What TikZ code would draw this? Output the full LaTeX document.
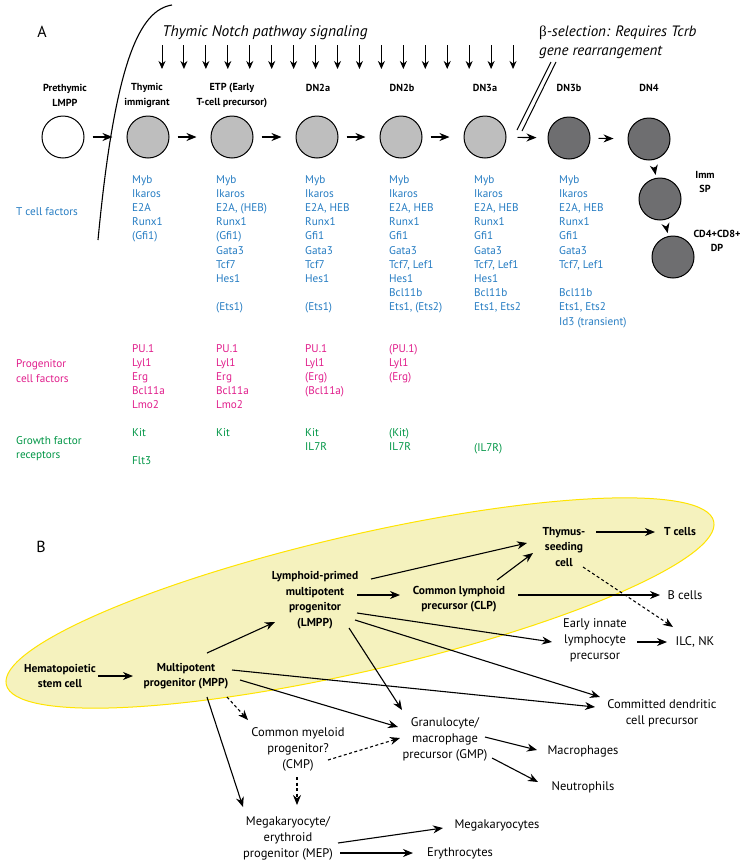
\documentclass[tikz,border=0pt]{standalone}
\usepackage{fontspec}
\setmainfont{PT Sans}
\newfontfamily\greekfont{Liberation Serif}
\usetikzlibrary{arrows.meta, positioning, calc}

\definecolor{tblue}{RGB}{38,125,195}
\definecolor{pmag}{RGB}{225,30,140}
\definecolor{ggreen}{RGB}{0,150,70}
\definecolor{lightcell}{RGB}{190,190,190}
\definecolor{darkcell}{RGB}{110,110,112}
\definecolor{ovalfill}{RGB}{245,242,190}
\definecolor{ovaledge}{RGB}{255,228,0}

\begin{document}
\begin{tikzpicture}[
  x=1pt, y=-1pt,
  every node/.style = {font=\fontsize{11}{13}\selectfont, inner sep=1pt},
  cell/.style   = {circle, draw=black, line width=1pt, minimum size=42pt,
                   inner sep=0pt},
  stage/.style  = {font=\bfseries\fontsize{10.2}{14.5}\selectfont, align=center},
  genes/.style  = {anchor=north west, inner sep=0pt, align=left,
                   font=\fontsize{11.2}{14.2}\selectfont},
  rowlbl/.style = {anchor=west, inner sep=0pt, align=left,
                   font=\fontsize{11.2}{14.2}\selectfont},
  arr/.style    = {-{Stealth[length=10pt, width=8pt]}, line width=1.1pt},
  darr/.style   = {arr, dash pattern=on 3pt off 2.5pt},
  notch/.style  = {-{Stealth[length=8pt, width=7pt]}, line width=1pt},
  bnode/.style  = {font=\bfseries\fontsize{11.5}{15.5}\selectfont, align=center},
  rnode/.style  = {font=\fontsize{12.5}{16}\selectfont, align=center},
]
\useasboundingbox (0,0) rectangle (751,865);
\fill[white] (0,0) rectangle (751,865);

% ---------------- PANEL A ----------------
\node[font=\fontsize{16}{18}\selectfont] (lblA) at (42,32) {A};

% thymus boundary
\draw[line width=1.1pt] (172,5) .. controls (140,10) and (115,60) .. (98,240);

% Notch signals
\node[font=\itshape\fontsize{15.4}{17}\selectfont] (notchtxt) at (265,33)
  {Thymic Notch pathway signaling};
\foreach \i in {0,...,16}{
  \coordinate (ntop\i) at ({162+21.94*\i},45);
  \coordinate (nbot\i) at ({162+21.94*\i},69);
  \draw[notch] (ntop\i) -- (nbot\i);
}

% beta-selection
\node[font=\itshape\fontsize{15}{19}\selectfont, align=left, anchor=west]
  (betatxt) at (538,42.5)
  {{\upshape\greekfont β}-selection: Requires Tcrb\\gene rearrangement};
\draw[line width=1pt] (551,62) -- (517,130);
\draw[line width=1pt] (556,62) -- (522,131);

% cells
\node[cell, fill=white]     (plmpp) at (63,137)  {};
\node[cell, fill=lightcell] (thy)   at (148,137) {};
\node[cell, fill=lightcell] (etp)   at (232,137) {};
\node[cell, fill=lightcell] (dn2a)  at (317,137) {};
\node[cell, fill=lightcell] (dn2b)  at (401,137) {};
\node[cell, fill=lightcell] (dn3a)  at (485,137) {};
\node[cell, fill=darkcell]  (dn3b)  at (569,138) {};
\node[cell, fill=darkcell]  (dn4)   at (649,139) {};
\node[cell, fill=darkcell]  (sp)    at (660,199) {};
\node[cell, fill=darkcell]  (dp)    at (673,257) {};

\draw[arr, shorten <=8pt, shorten >=14pt] (plmpp) -- (thy);
\draw[arr, shorten <=8pt, shorten >=14pt] (thy)   -- (etp);
\draw[arr, shorten <=8pt, shorten >=14pt] (etp)   -- (dn2a);
\draw[arr, shorten <=8pt, shorten >=14pt] (dn2a)  -- (dn2b);
\draw[arr, shorten <=8pt, shorten >=14pt] (dn2b)  -- (dn3a);
\draw[arr, shorten <=11pt, shorten >=11pt] (dn3a) -- (dn3b);
\draw[arr, shorten <=8pt, shorten >=14pt] (dn3b)  -- (dn4);
\draw[arr, shorten <=7pt, shorten >=3pt] (dn4) -- (sp);
\draw[arr, shorten <=7pt, shorten >=3pt] (sp)  -- (dp);

% stage labels
\node[stage] (tplmpp) at (65,95.5)  {Prethymic\\LMPP};
\node[stage] (tthy)   at (147,95.5) {Thymic\\immigrant};
\node[stage] (tetp)   at (232,95.5) {ETP (Early\\T-cell precursor)};
\node[stage] (tdn2a)  at (318,88)   {DN2a};
\node[stage] (tdn2b)  at (402,88)   {DN2b};
\node[stage] (tdn3a)  at (485,88)   {DN3a};
\node[stage] (tdn3b)  at (569,88)   {DN3b};
\node[stage] (tdn4)   at (649,88)   {DN4};
\node[stage] (tsp)    at (705,182)  {Imm\\SP};
\node[stage] (tdp)    at (717,241)  {CD4+CD8+\\DP};

% T cell factors
\node[rowlbl, tblue] (rowT) at (16,212) {T cell factors};
\node[genes, tblue] (gthy)  at (132,175)
  {Myb\\Ikaros\\E2A\\Runx1\\(Gfi1)};
\node[genes, tblue] (getp)  at (216,175)
  {Myb\\Ikaros\\E2A, (HEB)\\Runx1\\(Gfi1)\\Gata3\\Tcf7\\Hes1\\\mbox{}\\(Ets1)};
\node[genes, tblue] (gdn2a) at (305,175)
  {Myb\\Ikaros\\E2A, HEB\\Runx1\\Gfi1\\Gata3\\Tcf7\\Hes1\\\mbox{}\\(Ets1)};
\node[genes, tblue] (gdn2b) at (389,175)
  {Myb\\Ikaros\\E2A, HEB\\Runx1\\Gfi1\\Gata3\\Tcf7, Lef1\\Hes1\\Bcl11b\\Ets1, (Ets2)};
\node[genes, tblue] (gdn3a) at (474,175)
  {Myb\\Ikaros\\E2A, HEB\\Runx1\\Gfi1\\Gata3\\Tcf7, Lef1\\Hes1\\Bcl11b\\Ets1, Ets2};
\node[genes, tblue] (gdn3b) at (559,175)
  {Myb\\Ikaros\\E2A, HEB\\Runx1\\Gfi1\\Gata3\\Tcf7, Lef1\\\mbox{}\\Bcl11b\\Ets1, Ets2\\Id3 (transient)};

% progenitor cell factors
\node[rowlbl, pmag] (rowP) at (16,371) {Progenitor\\cell factors};
\node[genes, pmag] (pthy)  at (132,344) {PU.1\\Lyl1\\Erg\\Bcl11a\\Lmo2};
\node[genes, pmag] (petp)  at (216,344) {PU.1\\Lyl1\\Erg\\Bcl11a\\Lmo2};
\node[genes, pmag] (pdn2a) at (305,344) {PU.1\\Lyl1\\(Erg)\\(Bcl11a)};
\node[genes, pmag] (pdn2b) at (389,344) {(PU.1)\\Lyl1\\(Erg)};

% growth factor receptors
\node[rowlbl, ggreen] (rowG) at (16,449) {Growth factor\\receptors};
\node[genes, ggreen] (kthy)  at (132,428) {Kit\\\mbox{}\\Flt3};
\node[genes, ggreen] (ketp)  at (216,428) {Kit};
\node[genes, ggreen] (kdn2a) at (305,428) {Kit\\IL7R};
\node[genes, ggreen] (kdn2b) at (389,428) {(Kit)\\IL7R};
\node[genes, ggreen] (kdn3a) at (474,443) {(IL7R)};

% ---------------- PANEL B ----------------
\node[font=\fontsize{16}{18}\selectfont] (lblB) at (41,547) {B};

\draw[ovaledge, fill=ovalfill, line width=1pt, rotate around={13:(360,603)}]
  (360,603) ellipse [x radius=363pt, y radius=68pt];

\node[bnode] (hsc)    at (60,676)  {Hematopoietic\\stem cell};
\node[bnode] (mpp)    at (186,676) {Multipotent\\progenitor (MPP)};
\node[bnode] (lmppB)  at (315,600) {Lymphoid-primed\\multipotent\\progenitor\\(LMPP)};
\node[bnode] (clp)    at (459,599) {Common lymphoid\\precursor (CLP)};
\node[bnode] (tsc)    at (564,547) {Thymus-\\seeding\\cell};
\node[bnode] (tcells) at (680,532) {T cells};
\node[rnode] (bcells) at (685,595) {B cells};
\node[rnode] (eilp)   at (595,640) {Early innate\\lymphocyte\\precursor};
\node[rnode] (ilc)    at (695,642) {ILC, NK};
\node[rnode] (cdc)    at (662,713) {Committed dendritic\\cell precursor};
\node[rnode] (gmp)    at (445,739) {Granulocyte/\\macrophage\\precursor (GMP)};
\node[rnode] (cmp)    at (298,749) {Common myeloid\\progenitor?\\(CMP)};
\node[rnode] (mac)    at (583,751) {Macrophages};
\node[rnode] (neu)    at (583,787) {Neutrophils};
\node[rnode] (mep)    at (288,838) {Megakaryocyte/\\erythroid\\progenitor (MEP)};
\node[rnode] (mega)   at (497,825) {Megakaryocytes};
\node[rnode] (ery)    at (460,853) {Erythrocytes};

% lineage arrows
\draw[arr]  ($(hsc)+(38,0)$)    -- ($(mpp)+(-53,0)$);
\draw[arr]  ($(mpp)+(21,-23)$)  -- ($(lmppB)+(-40,22)$);
\draw[arr]  ($(lmppB)+(56,-21)$) -- ($(tsc)+(-37,-4)$);
\draw[arr]  ($(clp)+(38,-19)$)  -- ($(tsc)+(-31,6)$);
\draw[arr]  ($(lmppB)+(42,-5)$) -- ($(clp)+(-59,-4)$);
\draw[arr]  ($(tsc)+(32,-15)$)  -- ($(tcells)+(-25,0)$);
\draw[arr]  ($(clp)+(59,-4)$)   -- ($(bcells)+(-25,0)$);
\draw[darr] ($(tsc)+(19,20)$)   -- ($(ilc)+(-22,-15)$);
\draw[arr]  ($(eilp)+(42,2)$)   -- ($(ilc)+(-28,0)$);
\draw[arr]  ($(lmppB)+(42,13)$) -- ($(eilp)+(-43,2)$);
\draw[arr]  ($(lmppB)+(40,20)$) -- ($(cdc)+(-62,-16)$);
\draw[arr]  ($(lmppB)+(34,28)$) -- ($(gmp)+(-43,-29)$);
\draw[arr]  ($(mpp)+(46,-6)$)   -- ($(cdc)+(-67,-6)$);
\draw[arr]  ($(mpp)+(54,4)$)    -- ($(gmp)+(-47,-12)$);
\draw[arr]  ($(mpp)+(21,21)$)   -- ($(mep)+(-45,-31)$);
\draw[darr] ($(mpp)+(41,21)$)   -- ($(cmp)+(-50,-29)$);
\draw[darr] ($(cmp)+(30,11)$)   -- ($(gmp)+(-45,-1)$);
\draw[darr] ($(cmp)+(-1,28)$)   -- ($(mep)+(9,-33)$);
\draw[arr]  ($(gmp)+(40,-2)$)   -- ($(mac)+(-46,-1)$);
\draw[arr]  ($(gmp)+(47,19)$)   -- ($(neu)+(-45,-5)$);
\draw[arr]  ($(mep)+(50,5)$)    -- ($(mega)+(-54,3)$);
\draw[arr]  ($(mep)+(52,15)$)   -- ($(ery)+(-47,0)$);

\end{tikzpicture}
\end{document}
